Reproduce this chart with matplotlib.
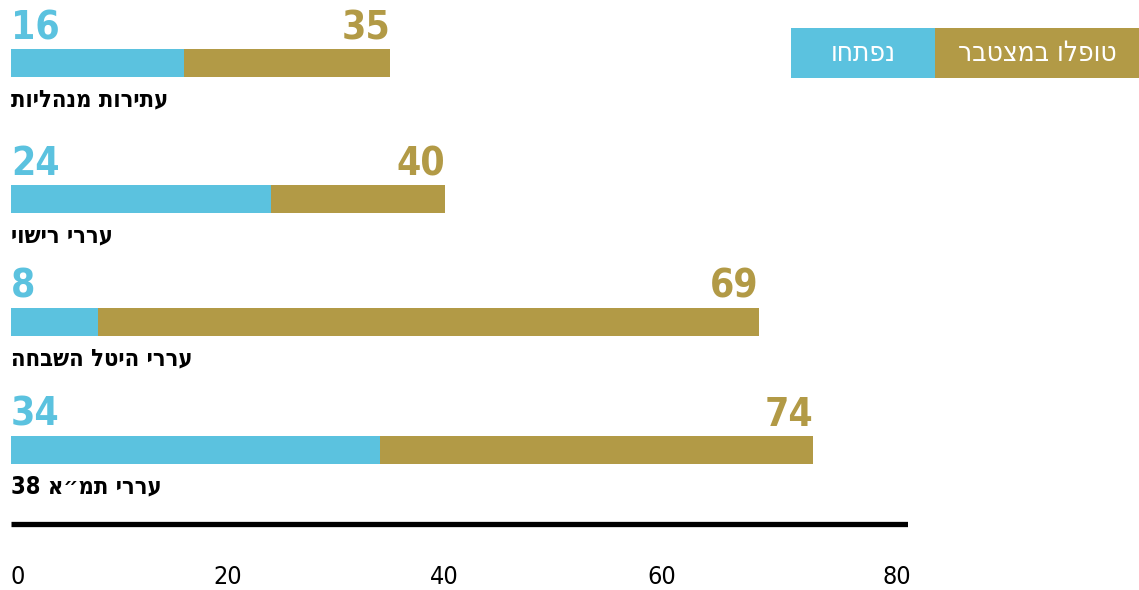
import re
import matplotlib
matplotlib.use("Agg")
import matplotlib.pyplot as plt

# data
categories = ["עתירות מנהליות", "עררי רישוי", "עררי היטל השבחה", "עררי תמ״א 38"]
opened = [16, 24, 8, 34]
handled = [35, 40, 69, 74]
tick_values = [0, 20, 40, 60, 80]
legend_labels = ["נפתחו", "טופלו במצטבר"]

BLUE = "#5bc2df"
GOLD = "#b29a46"

plt.rcParams["font.family"] = ["DejaVu Sans"]


def visual(s):
    # matplotlib has no bidi support: flip Hebrew runs, keep digit runs LTR
    parts = re.findall(r"\d+|\D+", s)
    return "".join(p if p.isdigit() else p[::-1] for p in reversed(parts))


W, H = 1139, 590
fig = plt.figure(figsize=(W / 100, H / 100), dpi=100)

x0, x1 = 11, 908
xmax = 82.75
ax = fig.add_axes([x0 / W, 0, (x1 - x0) / W, 1])
ax.set_xlim(0, xmax)
ax.set_ylim(H, 0)  # y in pixels from top
ax.axis("off")

row_y = [63, 199, 322, 450]
ax.barh(row_y, handled, height=28, color=GOLD, left=0)
ax.barh(row_y, opened, height=28, color=BLUE, left=0)

num_font = dict(fontsize=28, fontweight="bold", fontstretch="condensed")
for y, o, h, c in zip(row_y, opened, handled, categories):
    ax.text(0, y - 35, str(o), color=BLUE, ha="left", va="center", **num_font)
    ax.text(h, y - 35, str(h), color=GOLD, ha="right", va="center", **num_font)
    ax.text(0, y + 36, visual(c), color="black", ha="left", va="center",
            fontsize=17, fontweight="bold", fontstretch="condensed")

# axis line and tick labels
ax.plot([0, xmax], [523.5, 523.5], color="black", lw=3.8, solid_capstyle="butt")
for i, t in enumerate(tick_values):
    ha = "left" if i == 0 else "center"
    pos = t if i < len(tick_values) - 1 else t + 1.7
    ax.text(pos, 577, str(t), ha=ha, va="center", fontsize=18,
            fontstretch="condensed", color="black")

# legend boxes
lax = fig.add_axes([791 / W, 1 - 78 / H, (1139 - 791) / W, 50 / H])
lax.set_xlim(0, 348)
lax.set_ylim(0, 1)
lax.axis("off")
lax.barh(0.5, 144, left=0, height=1, color=BLUE)
lax.barh(0.5, 204, left=144, height=1, color=GOLD)
lax.text(72, 0.5, visual(legend_labels[0]), color="white", ha="center", va="center",
         fontsize=20, fontstretch="condensed")
lax.text(246, 0.5, visual(legend_labels[1]), color="white", ha="center", va="center",
         fontsize=20, fontstretch="condensed")

fig.savefig("out.png", dpi=100)
